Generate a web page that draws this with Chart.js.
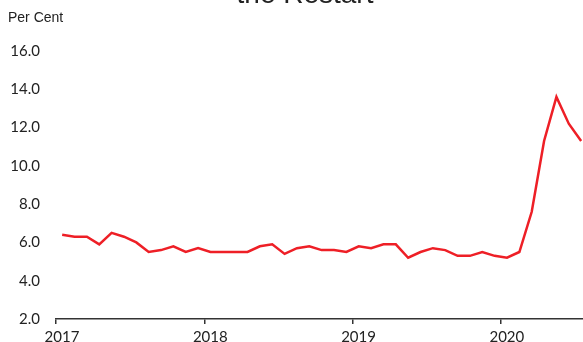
<!DOCTYPE html>
<html>
<head>
<meta charset="utf-8">
<script src="https://cdn.jsdelivr.net/npm/chart.js@4"></script>
<style>
html,body{margin:0;padding:0;background:#fff;overflow:hidden;}
#wrap{width:583px;height:342px;position:relative;}
</style>
</head>
<body>
<div id="wrap"><canvas id="c" width="583" height="342"></canvas></div>
<script>
const titleText = "the Restart";
const unitLabel = "Per Cent";
const startYear = 2017;
const yearTicks = [2017, 2018, 2019, 2020];
const values = [
  6.4, 6.3, 6.3, 5.9, 6.5, 6.3, 6.0, 5.5, 5.6, 5.8, 5.5, 5.7,
  5.5, 5.5, 5.5, 5.5, 5.8, 5.9, 5.4, 5.7, 5.8, 5.6, 5.6, 5.5,
  5.8, 5.7, 5.9, 5.9, 5.2, 5.5, 5.7, 5.6, 5.3, 5.3, 5.5, 5.3,
  5.2, 5.5, 7.6, 11.3, 13.6, 12.2, 11.3
];
const yMin = 2, yMax = 16, yStep = 2;

const points = values.map((v, i) => ({x: i + 0.5, y: v}));

const textPlugin = {
  id: 'texts',
  afterDraw(chart) {
    const ctx = chart.ctx;
    ctx.save();
    ctx.fillStyle = '#222';
    ctx.textBaseline = 'alphabetic';
    ctx.textAlign = 'center';
    ctx.font = '28px "Liberation Sans", Arial, sans-serif';
    ctx.fillText(titleText, 305, 3);
    ctx.textAlign = 'left';
    ctx.font = '14px "Liberation Sans", Arial, sans-serif';
    ctx.fillText(unitLabel, 8, 22);
    ctx.restore();
  }
};

new Chart(document.getElementById('c'), {
  type: 'line',
  data: {
    datasets: [{
      data: points,
      borderColor: '#ee1f26',
      borderWidth: 2.5,
      pointRadius: 0,
      tension: 0,
      fill: false
    }]
  },
  options: {
    responsive: false,
    animation: false,
    layout: {padding: {top: 51, right: 0, bottom: 0, left: 0}},
    plugins: {legend: {display: false}, tooltip: {enabled: false}, title: {display: false}},
    scales: {
      x: {
        type: 'linear',
        min: 0,
        max: 42.65,
        afterBuildTicks(scale) {
          scale.ticks = yearTicks.map(y => ({value: (y - startYear) * 12}));
        },
        afterFit(scale) { scale.height = 23; scale.paddingLeft = 0; scale.paddingRight = 0; },
        ticks: {
          callback: v => String(startYear + v / 12),
          color: '#222',
          font: {family: 'Lato, "Open Sans", sans-serif', size: 15},
          padding: 4,
          labelOffset: 6,
          maxRotation: 0,
          autoSkip: false
        },
        grid: {display: true, drawOnChartArea: false, drawTicks: true, tickLength: 5, color: '#333', lineWidth: 1.5},
        border: {display: true, color: '#333', width: 1.5}
      },
      y: {
        min: yMin,
        max: yMax,
        afterFit(scale) { scale.width = 56; scale.paddingTop = 0; scale.paddingBottom = 0; },
        ticks: {
          stepSize: yStep,
          callback: v => v.toFixed(1),
          color: '#222',
          font: {family: 'Lato, "Open Sans", sans-serif', size: 15},
          padding: 16
        },
        grid: {display: false, drawTicks: false},
        border: {display: false}
      }
    }
  },
  plugins: [textPlugin]
});
</script>
</body>
</html>
